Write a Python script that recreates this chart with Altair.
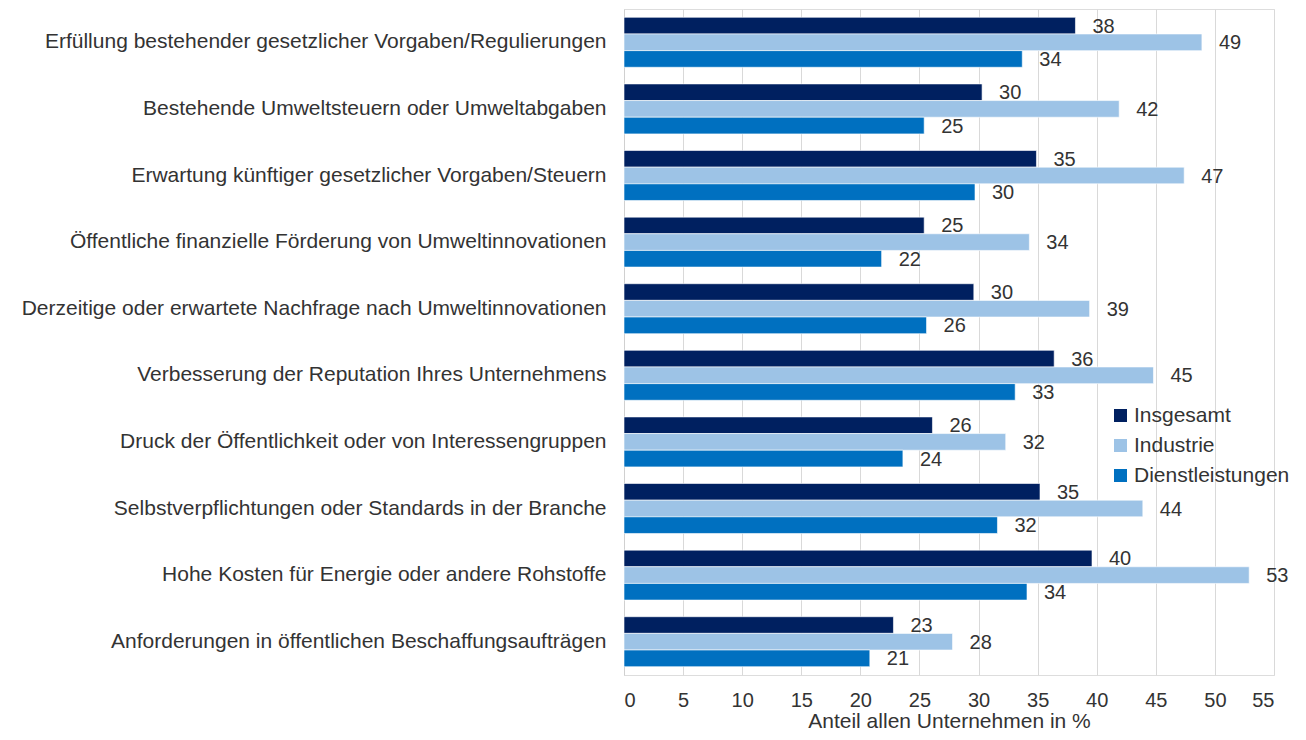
import altair as alt
import pandas as pd

categories = [
    "Erfüllung bestehender gesetzlicher Vorgaben/Regulierungen",
    "Bestehende Umweltsteuern oder Umweltabgaben",
    "Erwartung künftiger gesetzlicher Vorgaben/Steuern",
    "Öffentliche finanzielle Förderung von Umweltinnovationen",
    "Derzeitige oder erwartete Nachfrage nach Umweltinnovationen",
    "Verbesserung der Reputation Ihres Unternehmens",
    "Druck der Öffentlichkeit oder von Interessengruppen",
    "Selbstverpflichtungen oder Standards in der Branche",
    "Hohe Kosten für Energie oder andere Rohstoffe",
    "Anforderungen in öffentlichen Beschaffungsaufträgen",
]
series = ["Insgesamt", "Industrie", "Dienstleistungen"]
insgesamt = [38.2, 30.3, 34.9, 25.4, 29.6, 36.4, 26.1, 35.2, 39.6, 22.8]
industrie = [48.9, 41.9, 47.4, 34.3, 39.4, 44.8, 32.3, 43.9, 52.9, 27.8]
dienstleistungen = [33.7, 25.4, 29.7, 21.8, 25.6, 33.1, 23.6, 31.6, 34.1, 20.8]
colors = ["#002060", "#9DC3E6", "#0070C0"]

rows = []
for s, vals in zip(series, [insgesamt, industrie, dienstleistungen]):
    for c, v in zip(categories, vals):
        rows.append({"Kategorie": c, "Gruppe": s, "Wert": v})
df = pd.DataFrame(rows)

FONT = "Liberation Sans"
TXT = "#333333"

y_enc = alt.Y(
    "Kategorie:N",
    sort=categories,
    scale=alt.Scale(paddingInner=0.25, paddingOuter=0.125),
    axis=alt.Axis(
        title=None,
        labelFont=FONT,
        labelFontSize=21,
        labelColor=TXT,
        labelLimit=700,
        labelPadding=18,
        ticks=False,
        domain=True,
        domainColor="#d0d0d0",
        grid=False,
    ),
)
yoff = alt.YOffset("Gruppe:N", sort=series, scale=alt.Scale(paddingInner=0, paddingOuter=0))
x_enc = alt.X(
    "Wert:Q",
    scale=alt.Scale(domain=[0, 55], nice=False),
    axis=alt.Axis(
        values=list(range(0, 56, 5)),
        title="Anteil allen  Unternehmen  in %",
        titleFont=FONT,
        titleFontSize=21,
        titleFontWeight="normal",
        titleColor=TXT,
        titlePadding=0,
        labelFont=FONT,
        labelFontSize=20,
        labelColor=TXT,
        labelPadding=15,
        ticks=False,
        domain=False,
        grid=True,
        gridColor="#d9d9d9",
        gridWidth=1,
    ),
)
color_enc = alt.Color(
    "Gruppe:N",
    sort=series,
    scale=alt.Scale(domain=series, range=colors),
    legend=alt.Legend(
        title=None,
        orient="none",
        legendX=486,
        legendY=396,
        symbolType="square",
        symbolSize=169,
        symbolStrokeWidth=0,
        labelFont=FONT,
        labelFontSize=21,
        labelColor=TXT,
        rowPadding=8,
        labelOffset=3,
    ),
)

bars = alt.Chart(df).mark_bar(stroke="white", strokeWidth=0.6).encode(
    y=y_enc, yOffset=yoff, x=x_enc, color=color_enc
)
labels = alt.Chart(df).mark_text(
    align="left", baseline="middle", dx=17, dy=1, font=FONT, fontSize=20, color=TXT
).encode(
    y=alt.Y("Kategorie:N", sort=categories),
    yOffset=yoff,
    x="Wert:Q",
    text=alt.Text("Wert:Q", format=".0f"),
)

chart = (
    alt.layer(bars, labels)
    .properties(
        width=650,
        height=666,
        autosize=alt.AutoSizeParams(type="none"),
        padding={"left": 616, "top": 1, "right": 20, "bottom": 57},
    )
    .configure_view(stroke=None)
    .configure(background="white")
)

chart.save("out.html", embed_options={"renderer": "svg", "actions": False})
